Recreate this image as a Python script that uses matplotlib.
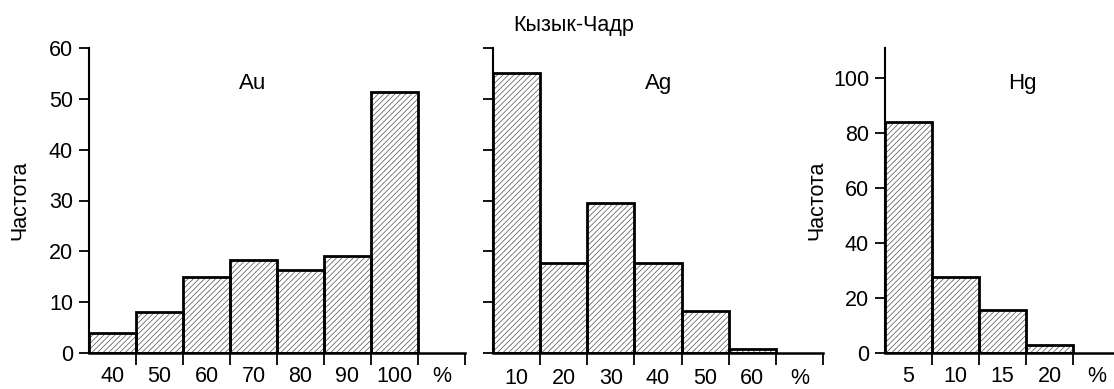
import numpy as np
import matplotlib
matplotlib.use("Agg")
import matplotlib.pyplot as plt

plt.rcParams['font.family'] = ['Liberation Sans', 'DejaVu Sans']
plt.rcParams['hatch.linewidth'] = 0.5

# data
au_labels = ['40', '50', '60', '70', '80', '90', '100']
au_freq = [4, 8, 15, 18.3, 16.3, 19, 51.3]

ag_labels = ['10', '20', '30', '40', '50', '60']
ag_freq = [55.1, 17.8, 29.6, 17.8, 8.3, 0.8]

hg_labels = ['5', '10', '15', '20']
hg_freq = [84, 27.6, 15.6, 2.8]

W, H = 1114, 389
FS = 15.5


def px_axes(fig, left, right, top, bottom):
    # pixel box -> figure fraction
    return fig.add_axes([left / W, 1 - bottom / H, (right - left) / W, (bottom - top) / H])


def hist_panel(ax, labels, freq, ymax, yticks, show_ylabels, name, name_x, label_pad):
    n = len(freq)
    x = np.arange(n)
    ax.bar(x, freq, width=1.0, color='white', edgecolor='#505050', hatch='//////', linewidth=0)
    ax.bar(x, freq, width=1.0, fill=False, edgecolor='black', linewidth=2)

    ax.set_xlim(-0.5, n + 0.5)
    ax.set_ylim(0, ymax)

    for s in ['top', 'right']:
        ax.spines[s].set_visible(False)
    ax.spines['left'].set_linewidth(1.5)
    ax.spines['bottom'].set_linewidth(1.8)

    # labels in the middle of each slot, ticks on the bin edges
    ax.set_xticks(np.arange(n + 1))
    ax.set_xticklabels(labels + ['%'])
    ax.set_xticks(np.arange(n + 1) + 0.5, minor=True)
    ax.tick_params(axis='x', which='major', length=0, pad=label_pad, labelsize=FS)
    ax.tick_params(axis='x', which='minor', length=8.5, width=1.3, direction='out')

    ax.set_yticks(yticks)
    ax.tick_params(axis='y', length=7, width=1.3, direction='out', labelsize=FS, pad=4.5)
    if not show_ylabels:
        ax.set_yticklabels([])

    ax.text(name_x, 0.885, name, transform=ax.transAxes, ha='center', va='center', fontsize=16)


fig = plt.figure(figsize=(W / 100, H / 100), dpi=100)

ax1 = px_axes(fig, 89, 465, 48, 353)
hist_panel(ax1, au_labels, au_freq, 60, range(0, 61, 10), True, 'Au', 0.436, 9.5)

ax2 = px_axes(fig, 493, 823, 48, 353)
hist_panel(ax2, ag_labels, ag_freq, 60, range(0, 61, 10), False, 'Ag', 0.503, 10.5)

ax3 = px_axes(fig, 885, 1120, 48, 353)
hist_panel(ax3, hg_labels, hg_freq, 111, range(0, 101, 20), True, 'Hg', 0.583, 9.5)

fig.text(20 / W, 1 - 200 / H, 'Частота', rotation=90, ha='center', va='center', fontsize=FS)
fig.text(817 / W, 1 - 200 / H, 'Частота', rotation=90, ha='center', va='center', fontsize=FS)
fig.text(574 / W, 1 - 25 / H, 'Кызык-Чадр', ha='center', va='center', fontsize=FS)

fig.savefig('out.png', dpi=100)
